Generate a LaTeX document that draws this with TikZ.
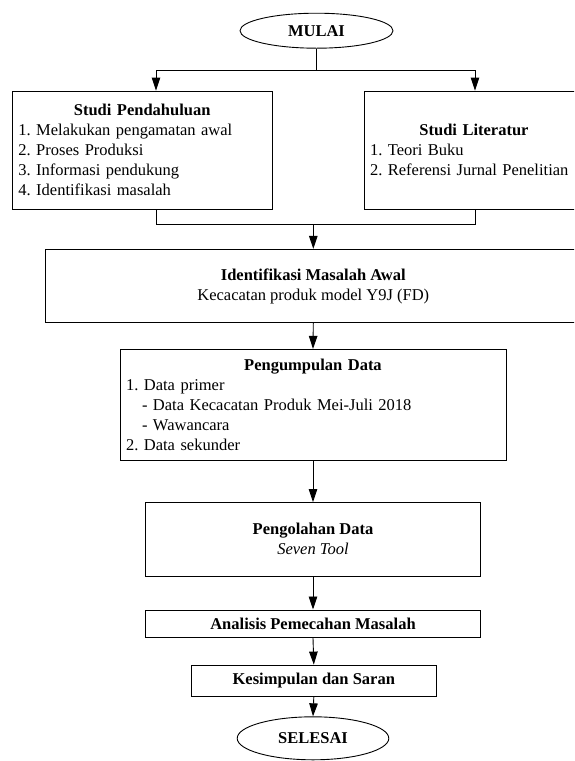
\documentclass[tikz,border=0pt]{standalone}
\usepackage{fontspec}
\setmainfont{Liberation Serif}
\usetikzlibrary{shapes.geometric,arrows.meta}
\frenchspacing
\begin{document}
\begin{tikzpicture}[x=1pt,y=-1pt,
  font=\fontsize{16.5}{20}\selectfont\frenchspacing,
  box/.style={draw, rectangle, inner xsep=6pt, inner ysep=0pt, line width=0.9pt},
  lbox/.style={box, align=left},
  cbox/.style={box, align=center},
  term/.style={draw, ellipse, inner sep=0pt, line width=0.9pt, font=\fontsize{16.5}{20}\selectfont\bfseries},
  conn/.style={line width=0.9pt},
  arr/.style={conn, -{Triangle[length=13pt,width=8.5pt]}}]
\useasboundingbox (0,0) rectangle (574,761);
\clip (0,0) rectangle (574,761);

\node[term, minimum width=153pt, minimum height=35pt] (mulai) at (316.5,30.7) {MULAI};

\node[lbox, text width=247.7pt, minimum height=118pt] (sp) at (142.2,150)
  {\makebox[\linewidth]{\textbf{Studi Pendahuluan}}\\1. Melakukan pengamatan awal\\2. Proses Produksi\\3. Informasi pendukung\\4. Identifikasi masalah};
\node[lbox, text width=208pt, minimum height=118pt] (sl) at (474,150)
  {\makebox[\linewidth]{\textbf{Studi Literatur}}\\1. Teori Buku\\2. Referensi Jurnal Penelitian};

\node[cbox, minimum width=535pt, minimum height=73.4pt] (ima) at (313.3,286)
  {\textbf{Identifikasi Masalah Awal}\\Kecacatan produk model Y9J (FD)};

\node[lbox, text width=374pt, minimum height=110.7pt] (pd) at (313,404.7)
  {\makebox[\linewidth]{\textbf{Pengumpulan Data}}\\1. Data primer\\\hspace*{16pt}- Data Kecacatan Produk Mei-Juli 2018\\\hspace*{16pt}- Wawancara\\2. Data sekunder};

\node[cbox, minimum width=335pt, minimum height=73.5pt] (pgd) at (313,539.3)
  {\textbf{Pengolahan Data}\\\textit{Seven Tool}};

\node[cbox, minimum width=335pt, minimum height=27.7pt] (apm) at (313,623.8)
  {\textbf{Analisis Pemecahan Masalah}};

\node[cbox, minimum width=244.3pt, minimum height=31.7pt] (ks) at (313.8,680.9)
  {\textbf{Kesimpulan dan Saran}};

\node[term, minimum width=151.6pt, minimum height=43pt] (selesai) at (313,738.3) {SELESAI};

% split from MULAI
\coordinate (jl) at (156,70);
\coordinate (jr) at (475,70);
\coordinate (mj) at (313.3,224.5);
\draw[conn] (mulai.south) |- (jl);
\draw[conn] (mulai.south) |- (jr);
\draw[arr] (jl) -- (jl |- sp.north);
\draw[arr] (jr) -- (jr |- sl.north);
% merge
\draw[conn] (jl |- sp.south) |- (mj);
\draw[conn] (jr |- sl.south) |- (mj);
\draw[arr] (mj) -- (ima.north);

\draw[arr] (ima.south) -- (pd.north);
\draw[arr] (pd.south) -- (pgd.north);
\draw[arr] (pgd.south) -- (apm.north);
\draw[arr] (apm.south) -- (ks.north);
\draw[arr] (ks.south) -- (selesai.north);
\end{tikzpicture}
\end{document}
